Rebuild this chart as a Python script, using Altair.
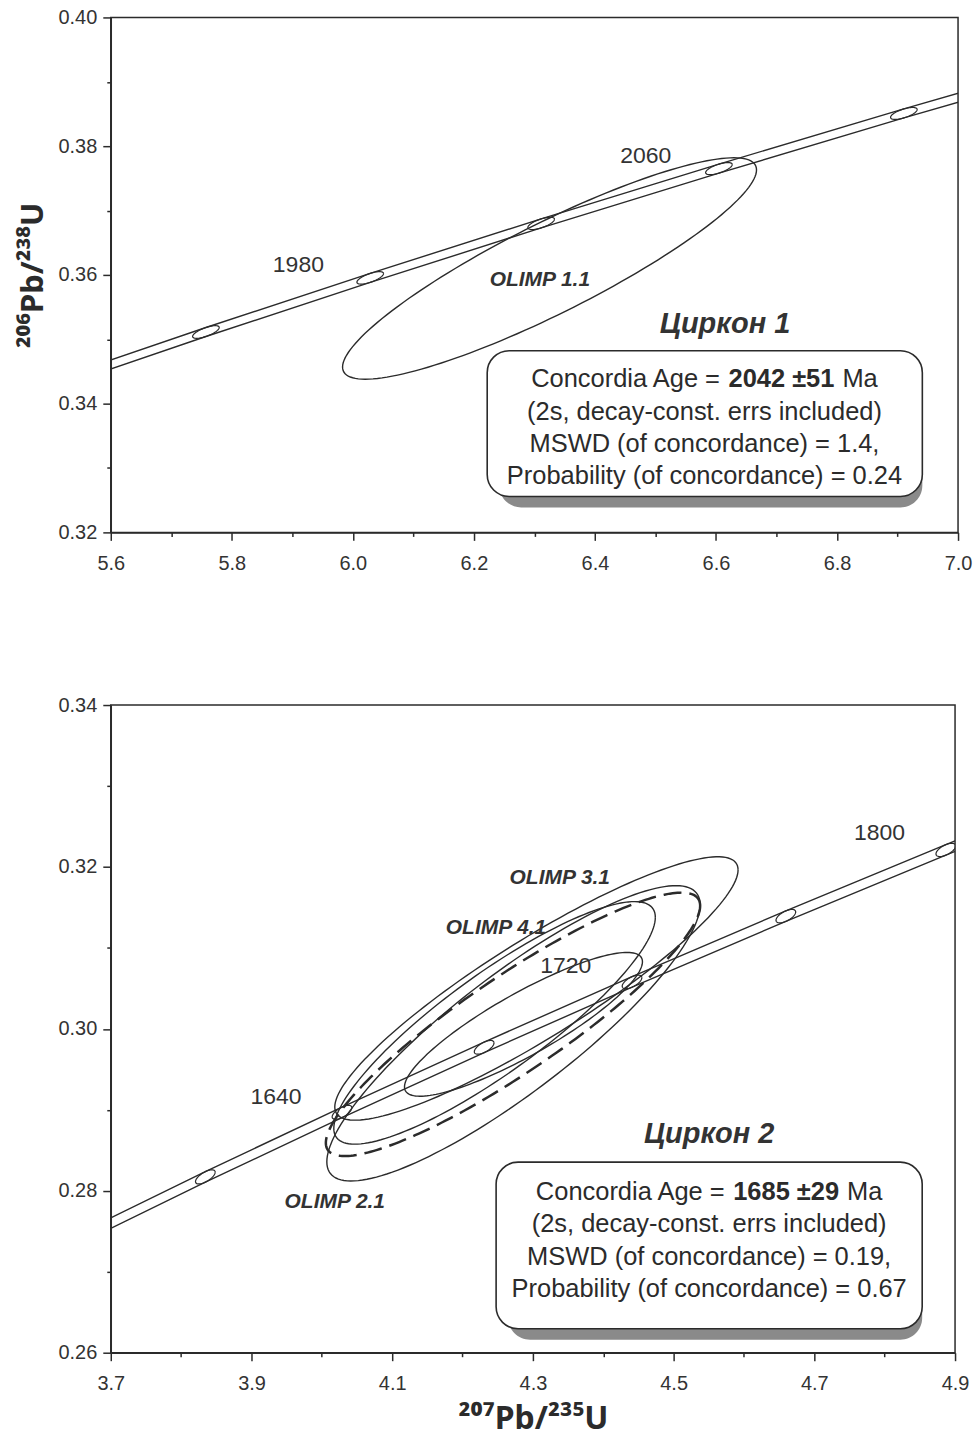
import math
import altair as alt
import pandas as pd

# ---------------- constants / data ----------------
LAMBDA_238 = 1.55125e-10
LAMBDA_235 = 9.8485e-10

INK = "#2b2b2b"
FONT = "Liberation Sans"
TITLE_FONT = "Noto Sans"

BOX_LINE2 = "(2s, decay-const. errs included)"
BOX_PREFIX = "Concordia Age ="
BOX_SUFFIX = "Ma"

# Panel 1 (Циркон 1)
P1_X_DOMAIN = [5.6, 7.0]
P1_Y_DOMAIN = [0.32, 0.40]
P1_X_TICKS = [5.6, 5.7, 5.8, 5.9, 6.0, 6.1, 6.2, 6.3, 6.4, 6.5, 6.6, 6.7, 6.8, 6.9, 7.0]
P1_Y_TICKS = [0.32, 0.33, 0.34, 0.35, 0.36, 0.37, 0.38, 0.39, 0.40]
P1_CURVE_AGES = [1900, 1940, 1980, 2020, 2060, 2100, 2140]
P1_MARK_AGES = [1940, 1980, 2020, 2060, 2100]
P1_BAND_HALF = 0.0007
P1_MARK_HALF_X = 0.022
P1_AGE_LABELS = ["1980", "2060"]
P1_AGE_LABEL_X = [5.910, 6.484]
P1_AGE_LABEL_Y = [0.36155, 0.37845]
P1_SPOT_NAMES = ["OLIMP 1.1"]
P1_SPOT_CX = [6.325]
P1_SPOT_CY = [0.3610]
P1_SPOT_HX = [0.342]
P1_SPOT_HY = [0.0172]
P1_SPOT_RHO = [0.89]
P1_SPOT_LABEL_X = [6.309]
P1_SPOT_LABEL_Y = [0.35922]
P1_TITLE = "Циркон 1"
P1_TITLE_XY = [6.615, 0.3524]
P1_BOX = [6.222, 6.941, 0.32558, 0.34822]
P1_BOX_TEXT_X = 6.581
P1_BOX_LINE_Y = [0.34387, 0.33876, 0.33380, 0.32868]
P1_AGE = "2042 ±51"
P1_MSWD = "MSWD (of concordance) = 1.4,"
P1_PROB = "Probability (of concordance) = 0.24"

# Panel 2 (Циркон 2)
P2_X_DOMAIN = [3.7, 4.9]
P2_Y_DOMAIN = [0.26, 0.34]
P2_X_TICKS = [3.7, 3.8, 3.9, 4.0, 4.1, 4.2, 4.3, 4.4, 4.5, 4.6, 4.7, 4.8, 4.9]
P2_Y_TICKS = [0.26, 0.27, 0.28, 0.29, 0.30, 0.31, 0.32, 0.33, 0.34]
P2_CURVE_AGES = [1560, 1600, 1640, 1680, 1720, 1760, 1800, 1840]
P2_MARK_AGES = [1600, 1640, 1680, 1720, 1760, 1800]
P2_BAND_HALF = 0.00065
P2_MARK_HALF_X = 0.014
P2_AGE_LABELS = ["1640", "1720", "1800"]
P2_AGE_LABEL_X = [3.935, 4.3467, 4.7925]
P2_AGE_LABEL_Y = [0.29156, 0.30771, 0.32422]
P2_SPOT_NAMES = ["OLIMP 3.1", "OLIMP 2.1", "OLIMP 4.1", "spot 5"]
P2_SPOT_CX = [4.3050, 4.2724, 4.2455, 4.2866]
P2_SPOT_CY = [0.30499, 0.29945, 0.30074, 0.30056]
P2_SPOT_HX = [0.2866, 0.2653, 0.2285, 0.1691]
P2_SPOT_HY = [0.01627, 0.01824, 0.01498, 0.00888]
P2_SPOT_RHO = [0.90, 0.87, 0.87, 0.87]
P2_SPOT_LABELS = ["OLIMP 3.1", "OLIMP 4.1", "OLIMP 2.1"]
P2_SPOT_LABEL_X = [4.3382, 4.2476, 4.0184]
P2_SPOT_LABEL_Y = [0.31868, 0.31251, 0.27861]
P2_MEAN_ELLIPSE = [4.2717, 0.30056, 0.2660, 0.01627, 0.90]  # cx, cy, hx, hy, rho
P2_TITLE = "Циркон 2"
P2_TITLE_XY = [4.5505, 0.28700]
P2_BOX = [4.2477, 4.8533, 0.26296, 0.28354]
P2_BOX_TEXT_X = 4.5505
P2_BOX_LINE_Y = [0.27985, 0.27590, 0.27183, 0.26789]
P2_AGE = "1685 ±29"
P2_MSWD = "MSWD (of concordance) = 0.19,"
P2_PROB = "Probability (of concordance) = 0.67"

# Arial / Liberation Sans advance widths (1/1000 em)
REG_W = {" ": 278, "(": 333, ")": 333, ",": 278, "-": 333, ".": 278, "=": 584,
         "±": 584, "A": 667, "C": 722, "M": 833, "a": 556, "c": 500, "d": 556,
         "e": 556, "g": 556, "i": 222, "n": 556, "o": 556, "r": 333, "s": 500, "t": 278}
BOLD_W = {" ": 278, "±": 584}


def text_w(s, table, size):
    return sum(table.get(c, 556) for c in s) * size / 1000.0


def conc(age_ma):
    t = age_ma * 1e6
    return math.exp(LAMBDA_235 * t) - 1.0, math.exp(LAMBDA_238 * t) - 1.0


def conc_slope(age_ma):
    t = age_ma * 1e6
    return (LAMBDA_238 * math.exp(LAMBDA_238 * t)) / (LAMBDA_235 * math.exp(LAMBDA_235 * t))


def ellipse_rows(name, cx, cy, hx, hy, rho, n=160):
    s = math.sqrt(1 - rho * rho)
    rows = []
    for i in range(n + 1):
        a = 2 * math.pi * i / n
        rows.append({"id": name, "o": i, "x": cx + hx * math.cos(a),
                     "y": cy + hy * (rho * math.cos(a) + s * math.sin(a))})
    return rows


def marker_rows(age, hx, hy, n=60):
    cx, cy = conc(age)
    m = conc_slope(age)
    rows = []
    for i in range(n + 1):
        a = 2 * math.pi * i / n
        rows.append({"id": f"m{age}", "o": i, "x": cx + hx * math.cos(a),
                     "y": cy + m * hx * math.cos(a) + hy * math.sin(a)})
    return rows


def band_rows(ages, half):
    rows = []
    for side, sgn in (("up", 1), ("lo", -1)):
        for i, a in enumerate(ages):
            x, y = conc(a)
            rows.append({"id": side, "o": i, "x": x, "y": y + sgn * half})
    return rows


def major_test(start, step):
    return f"abs((datum.value-({start}))/{step} - round((datum.value-({start}))/{step})) < 0.01"


def make_axes(xdom, ydom, xticks, yticks, xtitle, ytitle):
    xt = major_test(xdom[0], 0.2)
    yt = major_test(ydom[0], 0.02)
    common = dict(labelFont=FONT, labelFontSize=20, labelColor="#333333",
                  domainColor=INK, domainWidth=1.5, tickColor=INK, tickWidth=1.5,
                  grid=False, labelOverlap=False, labelFlush=False,
                  titleFont=TITLE_FONT, titleFontWeight="bold", titleColor=INK)
    xkw = dict(common)
    if xtitle:
        xkw.update(title=xtitle, titleFontSize=32, titlePadding=10)
    xaxis = alt.Axis(values=xticks, labelExpr=f"{xt} ? format(datum.value, '.1f') : ''",
                     tickSize={"condition": {"test": xt, "value": 8}, "value": 4},
                     labelPadding=13, **xkw)
    ykw = dict(common)
    if ytitle:
        ykw.update(title=ytitle, titleFontSize=31, titlePadding=8)
    yaxis = alt.Axis(values=yticks, labelExpr=f"{yt} ? format(datum.value, '.2f') : ''",
                     tickSize={"condition": {"test": yt, "value": 8}, "value": 4},
                     labelPadding=6, **ykw)
    xs = alt.Scale(domain=xdom, nice=False, zero=False)
    ys = alt.Scale(domain=ydom, nice=False, zero=False)
    X = lambda f="x": alt.X(f"{f}:Q", scale=xs, axis=xaxis, title=xtitle if xtitle else None)
    Y = lambda f="y": alt.Y(f"{f}:Q", scale=ys, axis=yaxis, title=ytitle if ytitle else None)
    return X, Y


def panel(cfg):
    X, Y = make_axes(cfg["xdom"], cfg["ydom"], cfg["xticks"], cfg["yticks"],
                     cfg["xtitle"], cfg["ytitle"])
    layers = []

    # concordia band
    band = pd.DataFrame(band_rows(cfg["ages"], cfg["band"]))
    layers.append(alt.Chart(band).mark_line(clip=True, color=INK, strokeWidth=1.4).encode(
        x=X(), y=Y(), detail="id:N", order="o:Q"))
    # age markers
    mk = []
    for a in cfg["marks"]:
        mk += marker_rows(a, cfg["mark_hx"], cfg["band"])
    layers.append(alt.Chart(pd.DataFrame(mk)).mark_line(clip=True, color=INK, strokeWidth=1.2).encode(
        x=X(), y=Y(), detail="id:N", order="o:Q"))
    # spot ellipses
    el = []
    for i, nm in enumerate(cfg["spots"]):
        el += ellipse_rows(nm, cfg["cx"][i], cfg["cy"][i], cfg["hx"][i], cfg["hy"][i], cfg["rho"][i])
    layers.append(alt.Chart(pd.DataFrame(el)).mark_line(clip=True, color=INK, strokeWidth=1.4).encode(
        x=X(), y=Y(), detail="id:N", order="o:Q"))
    if cfg.get("mean"):
        m = cfg["mean"]
        me = pd.DataFrame(ellipse_rows("mean", m[0], m[1], m[2], m[3], m[4], n=240))
        layers.append(alt.Chart(me).mark_line(clip=True, color=INK, strokeWidth=2.5,
                                              strokeDash=[18, 8]).encode(
            x=X(), y=Y(), detail="id:N", order="o:Q"))
    # age labels
    al = pd.DataFrame({"x": cfg["alx"], "y": cfg["aly"], "t": cfg["al"]})
    layers.append(alt.Chart(al).mark_text(font=FONT, fontSize=23, color="#333333").encode(
        x=X(), y=Y(), text="t:N"))
    # spot labels
    sl = pd.DataFrame({"x": cfg["slx"], "y": cfg["sly"], "t": cfg["sl"]})
    layers.append(alt.Chart(sl).mark_text(font=FONT, fontSize=21, fontWeight="bold",
                                          fontStyle="italic", color="#333333").encode(
        x=X(), y=Y(), text="t:N"))
    # title
    tt = pd.DataFrame({"x": [cfg["title_xy"][0]], "y": [cfg["title_xy"][1]], "t": [cfg["title"]]})
    layers.append(alt.Chart(tt).mark_text(font=FONT, fontSize=29, fontWeight="bold",
                                          fontStyle="italic", color="#333333").encode(
        x=X(), y=Y(), text="t:N"))
    # box shadow + box
    bx = pd.DataFrame({"x": [cfg["box"][0]], "x2": [cfg["box"][1]],
                       "y": [cfg["box"][2]], "y2": [cfg["box"][3]]})
    layers.append(alt.Chart(bx).mark_rect(cornerRadius=22, fill="#8a8a8a", xOffset=12, yOffset=11).encode(
        x=X(), x2="x2:Q", y=Y(), y2="y2:Q"))
    layers.append(alt.Chart(bx).mark_rect(cornerRadius=22, fill="white", stroke=INK,
                                          strokeWidth=1.6).encode(
        x=X(), x2="x2:Q", y=Y(), y2="y2:Q"))
    # box text
    fs = 25.5
    ly = cfg["box_y"]
    lines = pd.DataFrame({"x": [cfg["box_x"]] * 3, "y": ly[1:],
                          "t": [BOX_LINE2, cfg["mswd"], cfg["prob"]]})
    layers.append(alt.Chart(lines).mark_text(font=FONT, fontSize=fs, color="#2b2b2b").encode(
        x=X(), y=Y(), text="t:N"))
    sp = text_w(" ", REG_W, fs)
    w1 = text_w(BOX_PREFIX, REG_W, fs)
    w2 = text_w(cfg["age"], BOLD_W, fs)
    w3 = text_w(BOX_SUFFIX, REG_W, fs)
    W = w1 + sp + w2 + sp + w3
    first = pd.DataFrame({"x": [cfg["box_x"]], "y": [ly[0]]})
    for txt, dx, bold in ((BOX_PREFIX, -W / 2, False), (cfg["age"], -W / 2 + w1 + sp, True),
                          (BOX_SUFFIX, -W / 2 + w1 + sp + w2 + sp, False)):
        kw = dict(font=FONT, fontSize=fs, color="#2b2b2b", align="left", dx=dx, text=txt)
        if bold:
            kw["fontWeight"] = "bold"
        layers.append(alt.Chart(first).mark_text(**kw).encode(x=X(), y=Y()))

    return alt.layer(*layers).properties(width=cfg["w"], height=cfg["h"])


p1 = panel(dict(xdom=P1_X_DOMAIN, ydom=P1_Y_DOMAIN, xticks=P1_X_TICKS, yticks=P1_Y_TICKS,
                xtitle=None, ytitle="²⁰⁶Pb/²³⁸U", ages=P1_CURVE_AGES, marks=P1_MARK_AGES,
                band=P1_BAND_HALF, mark_hx=P1_MARK_HALF_X, spots=P1_SPOT_NAMES,
                cx=P1_SPOT_CX, cy=P1_SPOT_CY, hx=P1_SPOT_HX, hy=P1_SPOT_HY, rho=P1_SPOT_RHO,
                al=P1_AGE_LABELS, alx=P1_AGE_LABEL_X, aly=P1_AGE_LABEL_Y,
                sl=P1_SPOT_NAMES, slx=P1_SPOT_LABEL_X, sly=P1_SPOT_LABEL_Y,
                title=P1_TITLE, title_xy=P1_TITLE_XY, box=P1_BOX, box_x=P1_BOX_TEXT_X,
                box_y=P1_BOX_LINE_Y, age=P1_AGE, mswd=P1_MSWD, prob=P1_PROB, w=849, h=516))

p2 = panel(dict(xdom=P2_X_DOMAIN, ydom=P2_Y_DOMAIN, xticks=P2_X_TICKS, yticks=P2_Y_TICKS,
                xtitle="²⁰⁷Pb/²³⁵U", ytitle=None, ages=P2_CURVE_AGES, marks=P2_MARK_AGES,
                band=P2_BAND_HALF, mark_hx=P2_MARK_HALF_X, spots=P2_SPOT_NAMES,
                cx=P2_SPOT_CX, cy=P2_SPOT_CY, hx=P2_SPOT_HX, hy=P2_SPOT_HY, rho=P2_SPOT_RHO,
                mean=P2_MEAN_ELLIPSE,
                al=P2_AGE_LABELS, alx=P2_AGE_LABEL_X, aly=P2_AGE_LABEL_Y,
                sl=P2_SPOT_LABELS, slx=P2_SPOT_LABEL_X, sly=P2_SPOT_LABEL_Y,
                title=P2_TITLE, title_xy=P2_TITLE_XY, box=P2_BOX, box_x=P2_BOX_TEXT_X,
                box_y=P2_BOX_LINE_Y, age=P2_AGE, mswd=P2_MSWD, prob=P2_PROB, w=846, h=649))

chart = alt.vconcat(p1, p2, spacing=173, bounds="flush").properties(
    padding={"left": 17, "top": 5, "right": 5, "bottom": 5},
    background="white",
).configure(font=FONT).configure_view(stroke=INK, strokeWidth=1.5)

chart.save("out.html", embed_options={"renderer": "svg", "actions": False})
